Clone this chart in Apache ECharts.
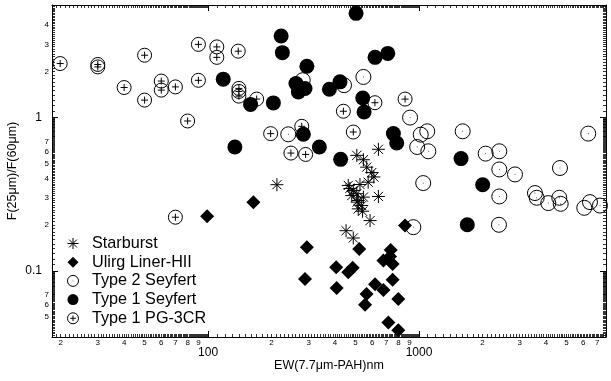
<!DOCTYPE html>
<html><head><meta charset="utf-8">
<script src="https://cdn.jsdelivr.net/npm/echarts@6/dist/echarts.min.js"></script>
<style>html,body{margin:0;padding:0;background:#fff}#c{width:611px;height:381px}</style>
</head><body><div id="c"></div>
<script>
// ---- data (x = EW(7.7um-PAH) nm, y = F(25um)/F(60um)) ----
const starburstX = [212, 507, 545, 642, 565, 597, 611, 574, 525, 462, 488, 480, 507, 545, 642, 509, 535, 515, 540, 586, 451, 488, 515, 470];
const starburstY = [0.365, 0.567, 0.531, 0.621, 0.475, 0.438, 0.41, 0.379, 0.366, 0.361, 0.335, 0.31, 0.319, 0.303, 0.306, 0.281, 0.267, 0.254, 0.245, 0.213, 0.183, 0.164, 0.288, 0.345];
const ulirgX = [99, 164, 294, 288, 858, 521, 405, 407, 462, 485, 734, 678, 729, 750, 750, 619, 678, 564, 555, 798, 716, 798];
const ulirgY = [0.227, 0.281, 0.143, 0.0886, 0.198, 0.139, 0.1056, 0.0774, 0.098, 0.105, 0.137, 0.117, 0.124, 0.111, 0.0877, 0.082, 0.075, 0.0707, 0.0602, 0.0656, 0.0461, 0.0411];
const type2X = [545, 441, 281, 907, 1019, 1094, 980, 1107, 1611, 2070, 2402, 2402, 2851, 4659, 6343, 1047, 2402, 3546, 3613, 4100, 4624, 4695, 6074, 6463, 7209, 940, 2393, 240];
const type2Y = [1.84, 1.626, 1.753, 1.0, 0.774, 0.814, 0.643, 0.603, 0.814, 0.582, 0.603, 0.459, 0.426, 0.469, 0.786, 0.374, 0.306, 0.322, 0.300, 0.277, 0.300, 0.274, 0.258, 0.281, 0.267, 0.193, 0.2, 0.778];
const type1X = [118, 159, 204, 134, 222, 225, 294, 261, 268, 288, 283, 503, 376, 422, 619, 711, 541, 549, 756, 784, 337, 425, 1582, 2004, 1694];
const type1Y = [1.78, 1.216, 1.246, 0.643, 3.40, 2.65, 2.16, 1.668, 1.47, 1.548, 0.778, 4.78, 1.53, 1.71, 2.47, 2.62, 1.343, 1.088, 0.786, 0.682, 0.643, 0.534, 0.54, 0.365, 0.2];
const pgX = [19.9, 30, 30, 40, 50, 50, 60, 60, 70, 80, 90, 90, 110, 110, 139, 140, 140, 140, 170, 198, 247, 290, 278, 438, 488, 618, 859, 70];
const pgY = [2.25, 2.22, 2.14, 1.57, 2.55, 1.30, 1.73, 1.51, 1.585, 0.95, 3.0, 1.75, 2.89, 2.47, 2.71, 1.55, 1.48, 1.38, 1.32, 0.786, 0.587, 0.575, 0.877, 1.10, 0.805, 1.25, 1.32, 0.224];

const seriesNames = ['Starburst', 'Ulirg Liner-HII', 'Type 2 Seyfert', 'Type 1 Seyfert', 'Type 1 PG-3CR'];

// tick labels
const xMinorLabels = [20, 30, 40, 50, 60, 70, 80, 90, 200, 300, 400, 500, 600, 700, 800, 900, 2000, 3000, 4000, 5000, 6000, 7000];
const xMajorLabels = [100, 1000];
const yMinorLabels = [0.05, 0.06, 0.07, 0.2, 0.3, 0.4, 0.5, 0.6, 0.7, 2, 3, 4];
const yMajorLabels = [0.1, 1];

const X_MIN = 18.2, X_MAX = 7700, Y_MIN = 0.0371, Y_MAX = 5.42;

function denseTicks(lo, hi) {
  const out = [];
  for (let e = -3; e <= 4; e++) {
    const step = Math.pow(10, e - 1);
    for (let k = 10; k < 100; k++) {
      const v = +(k * step).toPrecision(6);
      if (v >= lo && v <= hi) out.push(v);
    }
  }
  return out;
}
const lead = v => String(Math.round(v / Math.pow(10, Math.floor(Math.log10(v) + 1e-9))));

const FONT = "'Liberation Sans', Arial, Helvetica, sans-serif";

const RING = 'M0,7 A7,7 0 1,1 14,7 A7,7 0 1,1 0,7 Z';
const PATH_T2 = 'path://' + RING + ' M6.7,7 L7.3,7';
const PATH_PG = 'path://' + RING + ' M3.5,7 L10.5,7 M7,3.5 L7,10.5';
const PATH_AST = 'path://M0,7 L14,7 M7,0 L7,14 M2.05,2.05 L11.95,11.95 M11.95,2.05 L2.05,11.95';
const PATH_DIA = 'path://M7,0 L14,7 L7,14 L0,7 Z';
const PATH_DOT = 'path://M0,7 A7,7 0 1,1 14,7 A7,7 0 1,1 0,7 Z';

const strokeStyle = { color: 'rgba(0,0,0,0)', borderColor: '#000', borderWidth: 1, opacity: 1 };
const fillStyle = { color: '#000', borderWidth: 0, opacity: 1 };

function pairs(xs, ys) { return xs.map((x, i) => [x, ys[i]]); }

const xTicks = denseTicks(X_MIN, X_MAX);
const yTicks = denseTicks(Y_MIN, Y_MAX);

function xAx(pos, opts) {
  return Object.assign({
    type: 'log', logBase: 10, position: pos, min: X_MIN, max: X_MAX, gridIndex: 0,
    axisLine: { show: false }, splitLine: { show: false }, minorTick: { show: false },
    axisTick: { show: false }, axisLabel: { show: false }
  }, opts);
}
function yAx(pos, opts) {
  return Object.assign({
    type: 'log', logBase: 10, position: pos, min: Y_MIN, max: Y_MAX, gridIndex: 0,
    axisLine: { show: false }, splitLine: { show: false }, minorTick: { show: false },
    axisTick: { show: false }, axisLabel: { show: false }
  }, opts);
}

const option = {
  animation: false,
  backgroundColor: '#fff',
  grid: { left: 52, right: 5, top: 5, bottom: 44, containLabel: false, outerBoundsMode: 'none' },
  xAxis: [
    xAx('bottom', {
      axisLine: { show: true, onZero: false, lineStyle: { color: '#000', width: 1 } },
      axisTick: { show: true, inside: true, length: 3, customValues: xTicks, lineStyle: { color: '#000', width: 0.8 } },
      axisLabel: { show: true, customValues: xMinorLabels, formatter: lead, fontSize: 8, margin: 2, color: '#000', fontFamily: FONT, showMinLabel: true, showMaxLabel: true },
      name: 'EW(7.7μm-PAH)nm', nameLocation: 'middle', nameGap: 22,
      nameTextStyle: { fontSize: 12.5, color: '#000', fontFamily: FONT }
    }),
    xAx('bottom', {
      axisTick: { show: true, inside: true, length: 6, customValues: xMajorLabels, lineStyle: { color: '#000', width: 1 } },
      axisLabel: { show: true, customValues: xMajorLabels, formatter: v => String(Math.round(v)), fontSize: 12, margin: 10, color: '#000', fontFamily: FONT }
    }),
    xAx('top', {
      axisLine: { show: true, onZero: false, lineStyle: { color: '#000', width: 1 } },
      axisTick: { show: true, inside: true, length: 3, customValues: xTicks, lineStyle: { color: '#000', width: 0.8 } }
    }),
    xAx('top', {
      axisTick: { show: true, inside: true, length: 6, customValues: xMajorLabels, lineStyle: { color: '#000', width: 1 } }
    })
  ],
  yAxis: [
    yAx('left', {
      axisLine: { show: true, onZero: false, lineStyle: { color: '#000', width: 1 } },
      axisTick: { show: true, inside: true, length: 3, customValues: yTicks, lineStyle: { color: '#000', width: 0.8 } },
      axisLabel: { show: true, customValues: yMinorLabels, formatter: lead, fontSize: 8, margin: 3, color: '#000', fontFamily: FONT },
      name: 'F(25μm)/F(60μm)', nameLocation: 'middle', nameGap: 33,
      nameTextStyle: { fontSize: 12.5, color: '#000', fontFamily: FONT }
    }),
    yAx('left', {
      axisTick: { show: true, inside: true, length: 6, customValues: yMajorLabels, lineStyle: { color: '#000', width: 1 } },
      axisLabel: { show: true, customValues: yMajorLabels, formatter: v => (v < 0.5 ? '0.1' : '1'), fontSize: 12, margin: 10, color: '#000', fontFamily: FONT }
    }),
    yAx('right', {
      axisLine: { show: true, onZero: false, lineStyle: { color: '#000', width: 1 } },
      axisTick: { show: true, inside: true, length: 3, customValues: yTicks, lineStyle: { color: '#000', width: 0.8 } }
    }),
    yAx('right', {
      axisTick: { show: true, inside: true, length: 6, customValues: yMajorLabels, lineStyle: { color: '#000', width: 1 } }
    })
  ],
  legend: {
    orient: 'vertical', left: 62, top: 230.5, itemWidth: 28, itemHeight: 11, itemGap: 2.7,
    symbolKeepAspect: true,
    textStyle: { fontSize: 16.2, color: '#000', fontFamily: FONT },
    data: [
      { name: seriesNames[0], icon: PATH_AST, itemStyle: strokeStyle },
      { name: seriesNames[1], icon: PATH_DIA, itemStyle: fillStyle },
      { name: seriesNames[2], icon: PATH_T2, itemStyle: strokeStyle },
      { name: seriesNames[3], icon: PATH_DOT, itemStyle: fillStyle },
      { name: seriesNames[4], icon: PATH_PG, itemStyle: strokeStyle }
    ]
  },
  series: [
    { name: seriesNames[0], type: 'scatter', xAxisIndex: 0, yAxisIndex: 0, z: 4, symbol: PATH_AST, symbolSize: 13, itemStyle: strokeStyle, data: pairs(starburstX, starburstY) },
    { name: seriesNames[1], type: 'scatter', xAxisIndex: 0, yAxisIndex: 0, z: 2, symbol: 'diamond', symbolSize: 14, itemStyle: fillStyle, data: pairs(ulirgX, ulirgY) },
    { name: seriesNames[2], type: 'scatter', xAxisIndex: 0, yAxisIndex: 0, z: 2, symbol: PATH_T2, symbolSize: 15, itemStyle: strokeStyle, data: pairs(type2X, type2Y) },
    { name: seriesNames[3], type: 'scatter', xAxisIndex: 0, yAxisIndex: 0, z: 3, symbol: 'circle', symbolSize: 15, itemStyle: fillStyle, data: pairs(type1X, type1Y) },
    { name: seriesNames[4], type: 'scatter', xAxisIndex: 0, yAxisIndex: 0, z: 2, symbol: PATH_PG, symbolSize: 14, itemStyle: strokeStyle, data: pairs(pgX, pgY) }
  ]
};
const chart = echarts.init(document.getElementById('c'), null, { renderer: 'canvas' });
chart.setOption(option);
</script></body></html>
